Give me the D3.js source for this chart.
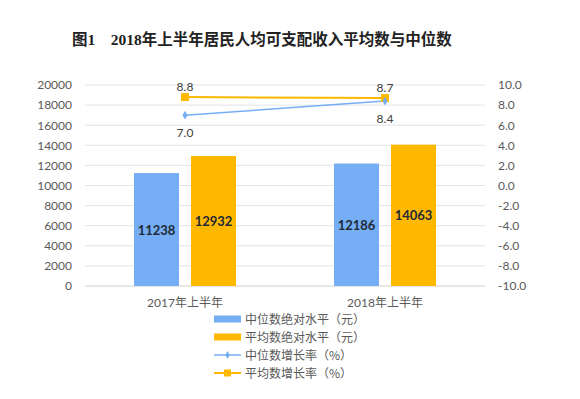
<!DOCTYPE html>
<html>
<head>
<meta charset="utf-8">
<script src="https://cdn.jsdelivr.net/npm/d3@7"></script>
<style>
  body { margin: 0; background: #fff; }
  text { font-family: Lato, "Noto Sans CJK SC", sans-serif; }
</style>
</head>
<body>
<script>
// chart data
var categories = ["2017年上半年", "2018年上半年"];
var medianLevel = [11238, 12186];
var meanLevel = [12932, 14063];
var medianGrowth = [7.0, 8.4];
var meanGrowth = [8.8, 8.7];
var leftTicks = [0, 2000, 4000, 6000, 8000, 10000, 12000, 14000, 16000, 18000, 20000];
var rightTicks = [-10, -8, -6, -4, -2, 0, 2, 4, 6, 8, 10];
var legendLabels = ["中位数绝对水平（元）", "平均数绝对水平（元）", "中位数增长率（%）", "平均数增长率（%）"];

var width = 580, height = 399;
// plot box (avoid "top", it is window.top)
var plotL = 85, plotR = 485, plotT = 85, plotB = 286;
var blue = "#75aef4", orange = "#ffb800";

var svg = d3.select("body").append("svg")
  .attr("width", width)
  .attr("height", height);

// title
svg.append("text")
  .attr("x", 72).attr("y", 45)
  .style("font-family", "'Liberation Serif', 'Noto Sans CJK SC', serif")
  .style("font-weight", "bold")
  .style("font-size", "15.5px")
  .attr("fill", "#222")
  .attr("xml:space", "preserve")
  .text("图1    2018年上半年居民人均可支配收入平均数与中位数");

var x = d3.scaleBand().domain(categories).range([plotL, plotR]);
var y = d3.scaleLinear().domain([0, 20000]).range([plotB, plotT]);
var y2 = d3.scaleLinear().domain([-10, 10]).range([plotB, plotT]);

// gridlines
svg.append("g").selectAll("line")
  .data(leftTicks)
  .enter().append("line")
  .attr("x1", plotL).attr("x2", plotR)
  .attr("y1", function(d) { return y(d); })
  .attr("y2", function(d) { return y(d); })
  .attr("stroke", function(d) { return d === 0 ? "#cfcfcf" : "#e3e3e3"; })
  .attr("stroke-width", 1);

// left axis labels
var leftAxis = svg.append("g")
  .attr("transform", "translate(72,0)")
  .call(d3.axisLeft(y).tickValues(leftTicks).tickSize(0).tickPadding(0)
    .tickFormat(function(d) { return String(d); }));
leftAxis.select(".domain").remove();
leftAxis.selectAll("text").attr("fill", "#595959").style("font-size", "12px");

// right axis labels
var rightAxis = svg.append("g")
  .attr("transform", "translate(498,0)")
  .call(d3.axisRight(y2).tickValues(rightTicks).tickSize(0).tickPadding(0)
    .tickFormat(function(d) { return d.toFixed(1); }));
rightAxis.select(".domain").remove();
rightAxis.selectAll("text").attr("fill", "#595959").style("font-size", "12px");

// bars
var barW = 45, off = 28.5;
var barData = [];
categories.forEach(function(c, i) {
  barData.push({ cat: c, v: medianLevel[i], dx: -off, color: blue });
  barData.push({ cat: c, v: meanLevel[i], dx: off, color: orange });
});
var bars = svg.append("g");
bars.selectAll("rect")
  .data(barData)
  .enter().append("rect")
  .attr("x", function(d) { return x(d.cat) + x.bandwidth() / 2 + d.dx - barW / 2; })
  .attr("y", function(d) { return y(d.v); })
  .attr("width", barW)
  .attr("height", function(d) { return plotB - y(d.v); })
  .attr("fill", function(d) { return d.color; });
bars.selectAll("text")
  .data(barData)
  .enter().append("text")
  .attr("x", function(d) { return x(d.cat) + x.bandwidth() / 2 + d.dx; })
  .attr("y", function(d) { return (y(d.v) + plotB) / 2 + 5; })
  .attr("text-anchor", "middle")
  .style("font-size", "13px")
  .style("font-weight", "bold")
  .attr("fill", "#1f2a36")
  .text(function(d) { return d.v; });

// category labels
svg.append("g").selectAll("text")
  .data(categories)
  .enter().append("text")
  .attr("x", function(d) { return x(d) + x.bandwidth() / 2; })
  .attr("y", 307)
  .attr("text-anchor", "middle")
  .style("font-size", "12px")
  .attr("fill", "#595959")
  .text(function(d) { return d; });

// lines
function cx(i) { return x(categories[i]) + x.bandwidth() / 2; }
var line = d3.line()
  .x(function(d, i) { return cx(i); })
  .y(function(d) { return y2(d); });

svg.append("path").datum(meanGrowth)
  .attr("d", line).attr("fill", "none")
  .attr("stroke", orange).attr("stroke-width", 2);
svg.append("path").datum(medianGrowth)
  .attr("d", line).attr("fill", "none")
  .attr("stroke", blue).attr("stroke-width", 1.5);

svg.append("g").selectAll("rect")
  .data(meanGrowth)
  .enter().append("rect")
  .attr("x", function(d, i) { return cx(i) - 4; })
  .attr("y", function(d) { return y2(d) - 4; })
  .attr("width", 8).attr("height", 8)
  .attr("fill", orange);
svg.append("g").selectAll("path")
  .data(medianGrowth)
  .enter().append("path")
  .attr("transform", function(d, i) { return "translate(" + cx(i) + "," + y2(d) + ")"; })
  .attr("d", d3.symbol(d3.symbolDiamond, 22))
  .attr("fill", blue);

// line labels
svg.append("g").selectAll("text")
  .data(meanGrowth)
  .enter().append("text")
  .attr("x", function(d, i) { return cx(i); })
  .attr("y", function(d) { return y2(d) - 6; })
  .attr("text-anchor", "middle")
  .style("font-size", "12px").attr("fill", "#404040")
  .text(function(d) { return d.toFixed(1); });
svg.append("g").selectAll("text")
  .data(medianGrowth)
  .enter().append("text")
  .attr("x", function(d, i) { return cx(i); })
  .attr("y", function(d) { return y2(d) + 22; })
  .attr("text-anchor", "middle")
  .style("font-size", "12px").attr("fill", "#404040")
  .text(function(d) { return d.toFixed(1); });

// legend
var legY = [319, 337, 355, 373];
var legend = svg.append("g").selectAll("g")
  .data(legendLabels)
  .enter().append("g")
  .attr("transform", function(d, i) { return "translate(214," + legY[i] + ")"; });
legend.each(function(d, i) {
  var g = d3.select(this);
  var c = (i % 2 === 0) ? blue : orange;
  if (i < 2) {
    g.append("rect").attr("x", 0).attr("y", -3.5).attr("width", 27).attr("height", 7).attr("fill", c);
  } else {
    g.append("line").attr("x1", 0).attr("x2", 27).attr("y1", 0).attr("y2", 0)
      .attr("stroke", c).attr("stroke-width", i === 3 ? 2 : 1.5);
    if (i === 2) {
      g.append("path").attr("transform", "translate(13.5,0)")
        .attr("d", d3.symbol(d3.symbolDiamond, 18)).attr("fill", c);
    } else {
      g.append("rect").attr("x", 10).attr("y", -3.5).attr("width", 7).attr("height", 7).attr("fill", c);
    }
  }
  g.append("text").attr("x", 31).attr("y", 4.5)
    .style("font-family", "'Noto Sans CJK SC', sans-serif")
    .style("font-size", "12px").attr("fill", "#595959")
    .text(d);
});
</script>
</body>
</html>
